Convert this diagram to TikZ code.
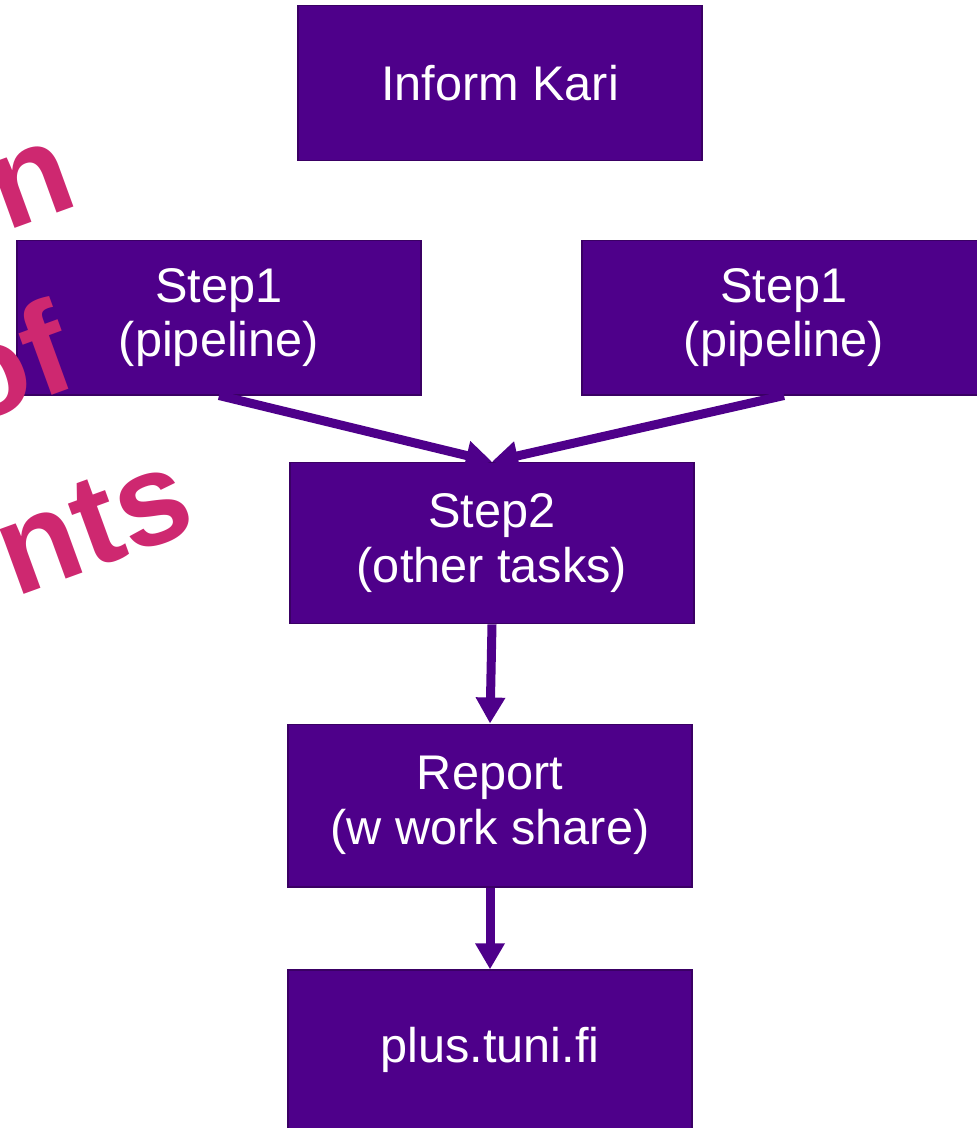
\documentclass[tikz,border=0pt]{standalone}
\usepackage{fontspec}
\setmainfont{Liberation Sans}
\usepackage{tikz, xcolor}
\usetikzlibrary{arrows.meta, calc}

\definecolor{boxfill}{RGB}{78,0,138}
\definecolor{boxline}{RGB}{58,0,100}
\definecolor{wordart}{RGB}{206,40,112}

\begin{document}
\begin{tikzpicture}[x=0.75pt, y=0.75pt,
    task/.style={draw=boxline, line width=1pt, fill=boxfill, text=white,
        minimum width=303pt, minimum height=116pt, align=center,
        font=\fontsize{36.5}{41}\selectfont},
    flow/.style={-{Triangle[length=19.5pt, width=21pt]}, line width=6.75pt, color=boxfill},
    art/.style={color=wordart, rotate=20, anchor=base east, inner sep=0pt,
        font=\fontsize{98}{110}\selectfont\bfseries}]
    \useasboundingbox (0,0) rectangle (977,-1128);
    \clip (0,0) rectangle (977,-1128);
    % boxes
    \node [task] (kari) at (500,-83) {Inform Kari};
    \node [task] (stepa) at (219,-317.5) {Step1\\(pipeline)};
    \node [task] (stepb) at (784,-317.5) {Step1\\(pipeline)};
    \node [task, minimum height=121pt] (steptwo) at (492,-543) {Step2\\(other tasks)};
    \node [task, minimum height=122pt] (report) at (490,-805.5) {Report\\(w work share)};
    \node [task, minimum height=120pt] (plus) at (490,-1050) {plus.tuni.fi};
    % arrows
    \foreach \from in {stepa,stepb}
    \draw [flow] (\from.south) -- (steptwo.north);
    \draw [flow] (steptwo.south) -- (report.north);
    \draw [flow] (report.south) -- (plus.north);
    % wordart fragments
    \node [art] (artn) at (82,-204) {n};
    \node [art] (artof) at (82,-385) {of};
    \node [art] (artnts) at (200,-530) {nts};
\end{tikzpicture}
\end{document}
